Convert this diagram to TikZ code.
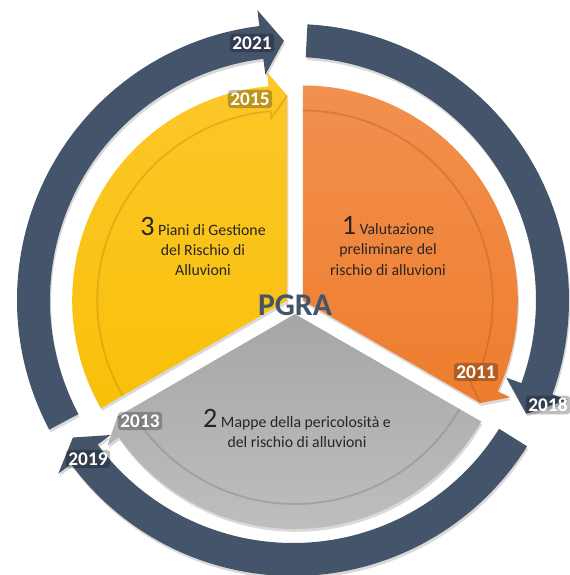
\documentclass[tikz,border=0pt]{standalone}
\usepackage{fontspec}
\setmainfont{Carlito}
\usetikzlibrary{shadows}

\definecolor{ringblue}{HTML}{44546A}
\definecolor{pgraorange}{HTML}{EE7D2D}
\definecolor{pgraorangelt}{HTML}{F2904F}
\definecolor{pgrayellow}{HTML}{F9C009}
\definecolor{pgrayellowlt}{HTML}{FCC72A}
\definecolor{pgragray}{HTML}{A6A6A6}
\definecolor{pgragraylt}{HTML}{BEBEBE}
\definecolor{steptextcol}{HTML}{262626}

\tikzset{
  yearlabel/.style={font=\fontsize{11}{13}\selectfont\bfseries, text=white,
    fill=black, fill opacity=0.25, text opacity=1, rounded corners=2pt, inner sep=1.5pt},
  steptext/.style={font=\fontsize{9}{11.4}\selectfont, text=steptextcol, align=center},
  softshadow/.style={drop shadow={opacity=0.3, shadow xshift=0.6pt, shadow yshift=-1.6pt}},
  bevel/.style={line width=1pt, opacity=0.35}
}

\begin{document}
\begin{tikzpicture}[x=0.02cm, y=0.02cm]
\useasboundingbox (-293,-275) rectangle (276,300);

% outer ring, three arrows
\fill[ringblue, softshadow] (87:276) arc[start angle=87, end angle=-20, radius=276]
  -- (-20:292) -- (-26:259.5) -- (-20:227) -- (-20:243)
  arc[start angle=-20, end angle=87, radius=243] -- cycle;
\fill[ringblue, softshadow] (-32:276) arc[start angle=-32, end angle=-143.5, radius=276]
  -- (-143.5:292) -- (-148:259.5) -- (-143.5:227) -- (-143.5:243)
  arc[start angle=-143.5, end angle=-32, radius=243] -- cycle;
\fill[ringblue, softshadow] (208:276) arc[start angle=208, end angle=97, radius=276]
  -- (97:292) -- (92:259.5) -- (97:227) -- (97:243)
  arc[start angle=97, end angle=208, radius=243] -- cycle;

% 1 - orange
\begin{scope}[shift={(9.8,-0.5)}]
  \shade[top color=pgraorangelt, bottom color=pgraorange, softshadow] (0,0) -- (90:215)
    arc[start angle=90, end angle=-25, radius=215] -- (-25:229) -- (-30:205) -- cycle;
  \draw[pgraorange!70!black, bevel] (90:190) arc[start angle=90, end angle=-25, radius=190]
    -- (-25:183) -- (-30:205);
\end{scope}

% 2 - gray
\begin{scope}[shift={(2,-14)}]
  \shade[top color=pgragray, bottom color=pgragraylt, softshadow] (0,0) -- (-30:215)
    arc[start angle=-30, end angle=-145, radius=215] -- (-145:229) -- (-150:205) -- cycle;
  \draw[pgragray!70!black, bevel] (-30:190) arc[start angle=-30, end angle=-145, radius=190]
    -- (-145:183) -- (-150:205);
\end{scope}

% 3 - yellow
\begin{scope}[shift={(-5.8,-0.5)}]
  \shade[top color=pgrayellowlt, bottom color=pgrayellow, softshadow] (0,0) -- (210:215)
    arc[start angle=210, end angle=95, radius=215] -- (95:229) -- (90:205) -- cycle;
  \draw[pgrayellow!70!black, bevel] (210:190) arc[start angle=210, end angle=95, radius=190]
    -- (95:183) -- (90:205);
\end{scope}

% texts
\node[font=\fontsize{18}{20}\selectfont\bfseries, text=ringblue] (pgra) at (2,-5) {PGRA};

\node[steptext] (step1) at (95,54) {{\fontsize{16}{16}\selectfont 1} Valutazione\\preliminare del\\rischio di alluvioni};
\node[steptext] (step2) at (4,-128) {{\fontsize{16}{16}\selectfont 2} Mappe della pericolosità e\\del rischio di alluvioni};
\node[steptext] (step3) at (-90,54) {{\fontsize{16}{16}\selectfont 3} Piani di Gestione\\del Rischio di\\Alluvioni};

% years
\node[yearlabel] (y2021) at (-41,257) {2021};
\node[yearlabel] (y2018) at (255,-105) {2018};
\node[yearlabel] (y2019) at (-205,-159) {2019};
\node[yearlabel] (y2015) at (-43,201) {2015};
\node[yearlabel] (y2011) at (183,-72) {2011};
\node[yearlabel] (y2013) at (-153,-121) {2013};
\end{tikzpicture}
\end{document}
